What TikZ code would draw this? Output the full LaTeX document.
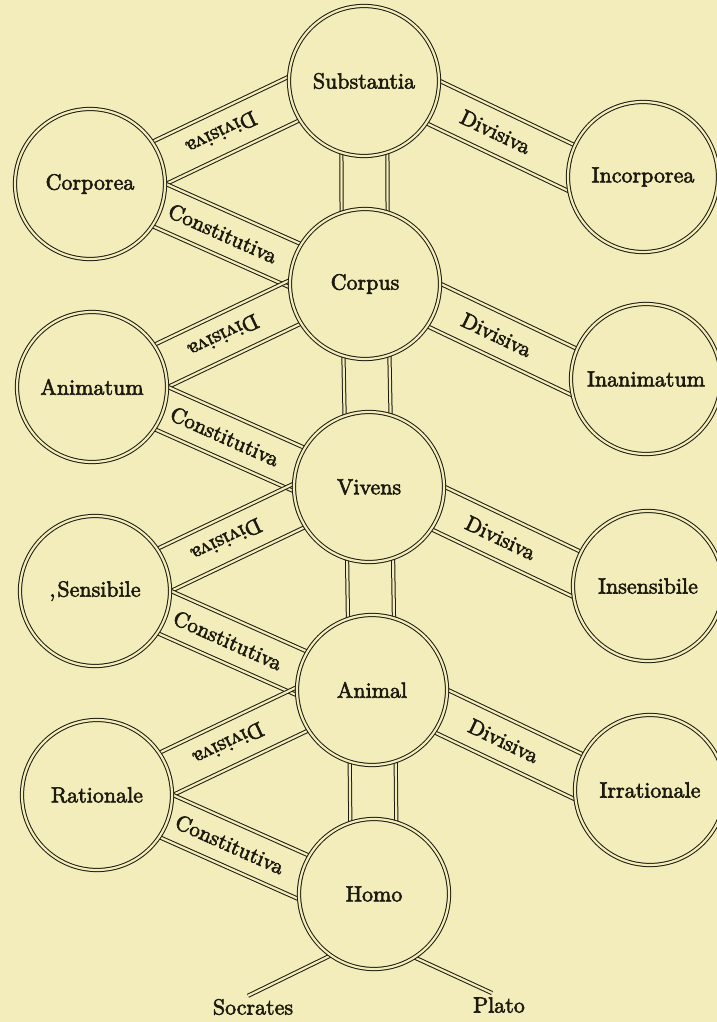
\documentclass[tikz,border=0pt]{standalone}
\usepackage{fontspec}
\usetikzlibrary{calc}
\newfontfamily\lbl[FakeBold=2.5]{lmroman10-regular.otf}
\definecolor{paper}{RGB}{242,237,186}
\definecolor{ink}{RGB}{28,26,14}
\pgfdeclarelayer{back}
\pgfdeclarelayer{bands}
\pgfsetlayers{back,bands,main}
\begin{document}
\begin{tikzpicture}[x=1pt,y=-1pt,
  dl/.style={draw=ink,line width=1pt,double=paper,double distance=2.2pt},
  term/.style={circle,draw=ink,line width=1pt,double=paper,double distance=2.2pt,fill=paper,
    minimum size=150pt,inner sep=0pt,font=\lbl\fontsize{22}{26}\selectfont,text=ink},
  blabel/.style={font=\lbl\fontsize{21.5}{25}\selectfont,text=ink,inner sep=0pt},
  plain/.style={font=\lbl\fontsize{22}{26}\selectfont,text=ink,inner sep=0pt}]
\begin{pgfonlayer}{back}
  \fill[paper] (0,0) rectangle (717,1022);
\end{pgfonlayer}
\useasboundingbox (0,0) rectangle (717,1022);

% centre column
\node[term] (substantia) at (364,81)  {Substantia};
\node[term] (corpus)     at (365,284) {Corpus};
\node[term] (vivens)     at (369,487) {Vivens};
\node[term] (animal)     at (372,690) {Animal};
\node[term] (homo)       at (374,894) {Homo};
% left column
\node[term] (corporea)  at (90,184) {Corporea};
\node[term] (animatum)  at (92,387) {Animatum};
\node[term] (sensibile) at (95,591) {,\kern2pt Sensibile};
\node[term] (rationale) at (97,795) {Rationale};
% right column
\node[term] (incorporea)  at (643,177) {Incorporea};
\node[term] (inanimatum)  at (646,379) {Inanimatum};
\node[term] (insensibile) at (648,586) {Insensibile};
\node[term] (irrationale) at (650,790) {Irrationale};
% individuals
\node[plain] (socrates) at (253,1007) {Socrates};
\node[plain] (plato)    at (499,1005) {Plato};

\begin{pgfonlayer}{bands}
  % vertical bands
  \foreach \A/\B in {substantia/corpus,corpus/vivens,vivens/animal,animal/homo}{
    \draw[dl] ($(\A.center)+(-23,0)$) -- ($(\B.center)+(-23,0)$);
    \draw[dl] ($(\A.center)+(23,0)$) -- ($(\B.center)+(23,0)$);
  }
  % left bands
  \foreach \L/\U/\D in {corporea/substantia/corpus,animatum/corpus/vivens,
                        sensibile/vivens/animal,rationale/animal/homo}{
    \coordinate (v) at ($(\L.center)+(76,0)$);
    % Divisiva (to upper centre)
    \draw[dl] ($(v)+(154.5:40)$) -- ($(v)+(-25.5:200)$);
    \coordinate (p) at ($(v)+(-115.5:44)$);
    \draw[dl] (p) -- ($(p)+(-25.5:200)$);
    \node[blabel,rotate=205.5] at ($(v)+(-115.5:22)+(-25.5:72)$) {Divisiva};
    % Constitutiva (to lower centre)
    \draw[dl] ($(v)+(204:40)$) -- ($(v)+(24:200)$);
    \coordinate (q) at ($(v)+(114:44)$);
    \draw[dl] (q) -- ($(q)+(24:200)$);
    \node[blabel,rotate=-24] at ($(v)+(114:22)+(24:72)$) {Constitutiva};
  }
  % right bands
  \foreach \C/\R in {substantia/incorporea,corpus/inanimatum,vivens/insensibile,animal/irrationale}{
    \coordinate (v) at ($(\C.center)+(76,0)$);
    \draw[dl] ($(v)+(205.5:40)$) -- ($(v)+(25.5:200)$);
    \coordinate (p) at ($(v)+(115.5:44)$);
    \draw[dl] (p) -- ($(p)+(25.5:200)$);
    \node[blabel,rotate=-25.5] at ($(v)+(115.5:22)+(25.5:72)$) {Divisiva};
  }
  % individuals
  \draw[dl] ($(homo.center)+(-20,50)$) -- ($(socrates.north)+(-5,-3)$);
  \draw[dl] ($(homo.center)+(20,54)$) -- ($(plato.north)+(-7,-4)$);
\end{pgfonlayer}
\end{tikzpicture}
\end{document}
